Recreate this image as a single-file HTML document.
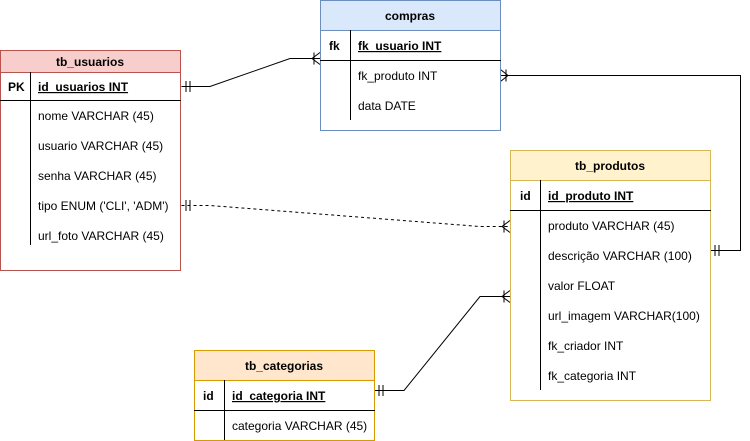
<!DOCTYPE html>
<html><head><style>body{margin:0;background:#fff}svg{display:block}text{font-family:"Liberation Sans",Arial,sans-serif;font-size:12px;fill:#000}.b{font-weight:bold}</style></head><body>
<svg width="750" height="441" viewBox="0 0 750 441">
<g stroke="#000" fill="none" stroke-width="1">
<!-- usuarios -> compras -->
<path d="M181.5 86.5H210L290 58.5H320"/>
<path d="M186 81v11M190 81v11"/>
<path d="M320 52.5L312 58.5L320 64.5M314 52.5v12"/>
<!-- compras -> produtos -->
<path d="M500.5 75.5H740.5V250.5H710.5"/>
<path d="M500.5 69.5L508 75.5L500.5 81.5M506 69.5v12"/>
<path d="M715 245v11M719 245v11"/>
<!-- dashed -->
<path d="M181.5 205.5H210L480 226.5H510" stroke-dasharray="3 3"/>
<path d="M186 200v11M190 200v11"/>
<path d="M510 220.5L502 226.5L510 232.5M504 220.5v12"/>
<!-- categorias -> produtos -->
<path d="M374.5 390.5H404L480 296.5H510"/>
<path d="M379 385v11M383 385v11"/>
<path d="M510 290.5L502 296.5L510 302.5M504 290.5v12"/>
</g>
<!-- tb_usuarios -->
<rect x="0.5" y="50.5" width="180" height="220" fill="#fff" stroke="#b85450"/>
<rect x="0.5" y="50.5" width="180" height="22" fill="#f8cecc" stroke="#b85450"/>
<line x1="0" y1="100.5" x2="181" y2="100.5" stroke="#000"/>
<line x1="30.5" y1="72" x2="30.5" y2="245" stroke="#000"/>
<text x="90" y="66" text-anchor="middle" class="b">tb_usuarios</text>
<text x="8" y="91" class="b">PK</text>
<text x="38" y="91" class="b" text-decoration="underline">id_usuarios INT</text>
<text x="38" y="120">nome VARCHAR (45)</text>
<text x="38" y="150">usuario VARCHAR (45)</text>
<text x="38" y="180">senha VARCHAR (45)</text>
<text x="38" y="210">tipo ENUM ('CLI', 'ADM')</text>
<text x="38" y="240">url_foto VARCHAR (45)</text>
<!-- compras -->
<rect x="320.5" y="0.5" width="180" height="130" fill="#fff" stroke="#6c8ebf"/>
<rect x="320.5" y="0.5" width="180" height="30" fill="#dae8fc" stroke="#6c8ebf"/>
<line x1="320" y1="60.5" x2="501" y2="60.5" stroke="#000"/>
<line x1="350.5" y1="30" x2="350.5" y2="120" stroke="#000"/>
<text x="410" y="20" text-anchor="middle" class="b">compras</text>
<text x="329" y="50" class="b">fk</text>
<text x="358" y="50" class="b" text-decoration="underline">fk_usuario INT</text>
<text x="358" y="80">fk_produto INT</text>
<text x="358" y="110">data DATE</text>
<!-- tb_produtos -->
<rect x="510.5" y="150.5" width="200" height="250" fill="#fff" stroke="#d6b656"/>
<rect x="510.5" y="150.5" width="200" height="30" fill="#fff2cc" stroke="#d6b656"/>
<line x1="510" y1="210.5" x2="711" y2="210.5" stroke="#000"/>
<line x1="540.5" y1="180" x2="540.5" y2="390" stroke="#000"/>
<text x="610" y="170" text-anchor="middle" class="b">tb_produtos</text>
<text x="520" y="200" class="b">id</text>
<text x="548" y="200" class="b" text-decoration="underline">id_produto INT</text>
<text x="548" y="230">produto VARCHAR (45)</text>
<text x="548" y="260">descrição VARCHAR (100)</text>
<text x="548" y="290">valor FLOAT</text>
<text x="548" y="320">url_imagem VARCHAR(100)</text>
<text x="548" y="350">fk_criador INT</text>
<text x="548" y="380">fk_categoria INT</text>
<!-- tb_categorias -->
<rect x="194.5" y="350.5" width="180" height="90" fill="#fff" stroke="#d79b00"/>
<rect x="194.5" y="350.5" width="180" height="30" fill="#ffe6cc" stroke="#d79b00"/>
<line x1="194" y1="410.5" x2="375" y2="410.5" stroke="#000"/>
<line x1="224.5" y1="380" x2="224.5" y2="440" stroke="#000"/>
<text x="284" y="370" text-anchor="middle" class="b">tb_categorias</text>
<text x="203" y="400" class="b">id</text>
<text x="232" y="400" class="b" text-decoration="underline">id_categoria INT</text>
<text x="232" y="430">categoria VARCHAR (45)</text>
</svg>
</body></html>
